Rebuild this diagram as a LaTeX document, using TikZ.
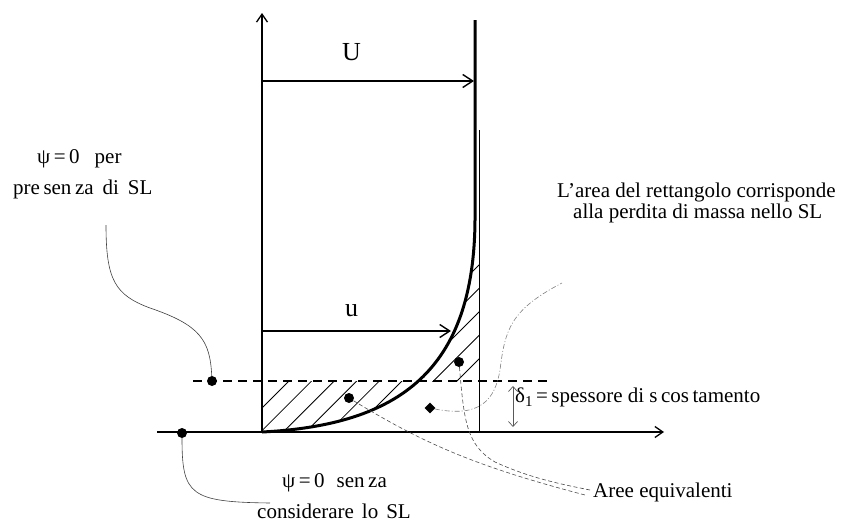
\documentclass[tikz,border=0pt]{standalone}
\usepackage{fontspec}
\setmainfont{Liberation Serif}
\usetikzlibrary{arrows.meta,shapes.geometric}
\begin{document}
\begin{tikzpicture}[x=1pt,y=-1pt,
  axis/.style={line width=1.6pt,-{Straight Barb[length=8pt,width=11pt,line width=1.3pt]}},
  vel/.style={line width=1.6pt,-{Straight Barb[length=10pt,width=13pt,line width=1.4pt]}},
  profile/.style={line width=3pt},
  rectline/.style={line width=1pt},
  hatch/.style={line width=0.8pt},
  refline/.style={line width=1.8pt,dash pattern=on 9pt off 6pt},
  dot/.style={circle,fill=black,inner sep=0pt,minimum size=10pt},
  dmd/.style={diamond,fill=black,inner sep=0pt,minimum size=11pt},
  lbl/.style={font=\fontsize{21}{21}\selectfont,inner sep=0pt,anchor=base west},
  big/.style={font=\fontsize{26}{26}\selectfont,inner sep=0pt,anchor=base west},
  lead/.style={line width=0.6pt,draw=black!75},
  leaddash/.style={line width=0.6pt,draw=black!70,dash pattern=on 4pt off 2.5pt},
  leaddd/.style={line width=0.6pt,draw=black!50,dash pattern=on 5pt off 2pt on 1pt off 2pt},
  darrow/.style={line width=0.7pt,draw=black!65,{Straight Barb[length=5pt,width=9pt]}-{Straight Barb[length=5pt,width=9pt]}},
]
\useasboundingbox (0,0) rectangle (846,522);

% hatching, lower region (between axis and profile, below dashed line)
\begin{scope}
  \clip (262,381) rectangle (480,432);
  \clip (262,432) .. controls (400,425) and (474,370) .. (475,220) -- (262,220) -- cycle;
  \foreach \c in {670,692.6,715.2,737.8,760.4,783,805.6}
    \draw[hatch] ({\c-450},450) -- ({\c-240},240);
\end{scope}
% hatching, upper region (between profile and rectangle side, above dashed line)
\begin{scope}
  \clip (262,262) rectangle (479,381);
  \clip (262,432) .. controls (400,425) and (474,370) .. (475,220) -- (479,220) -- (479,432) -- cycle;
  \foreach \c in {744,767.5,791,814.5,838,861.5}
    \draw[hatch] ({\c-450},450) -- ({\c-240},240);
\end{scope}

% axes
\coordinate (O) at (262,432);
\coordinate (ytip) at (262,13);
\coordinate (xbeg) at (157,432);
\coordinate (xtip) at (664,432);
\draw[axis] (O) -- (ytip);
\draw[axis] (xbeg) -- (xtip);

% velocity profile and rectangle side
\coordinate (Ptop) at (475,20);
\coordinate (Pbend) at (475,220);
\draw[profile] (Ptop) -- (Pbend) .. controls (474,370) and (400,425) .. (O);
\coordinate (Rtop) at (479,130);
\coordinate (Rbot) at (479,432);
\draw[rectline] (Rtop) -- (Rbot);

% velocity arrows
\coordinate (Ua) at (262,81);
\coordinate (Ub) at (474,81);
\draw[vel] (Ua) -- (Ub);
\node[big] (Ulbl) at (342,60) {U};
\coordinate (ua) at (262,331);
\coordinate (ub) at (451,331);
\draw[vel] (ua) -- (ub);
\node[big] (ulbl) at (345,316) {u};

% displacement thickness line
\coordinate (Da) at (193,381);
\coordinate (Db) at (552,381);
\draw[refline] (Da) -- (Db);

% delta arrow and label
\coordinate (da) at (513,386);
\coordinate (db) at (513,427);
\draw[darrow] (da) -- (db);
\node[lbl] (dlbl) at (515,402) {δ\raisebox{-4pt}{\fontsize{15}{15}\selectfont 1}\,=\,spessore di s\,cos\,tamento};

% markers
\node[dot] (dA) at (212,381) {};
\node[dot] (dB) at (182,433) {};
\node[dot] (dC) at (349,398) {};
\node[dot] (dD) at (459,362) {};
\node[dmd] (dE) at (430,408) {};

% texts
\node[lbl] (psiA) at (37,163) {ψ\,=\,0\hspace{15pt}per};
\node[lbl] (psiB) at (13,194) {pre\,sen\,za\hspace{9pt}di\hspace{9pt}SL};
\node[lbl] (psiC) at (282,487) {ψ\,=\,0\hspace{12pt}sen\,za};
\node[lbl] (psiD) at (257,518) {considerare\hspace{8pt}lo\hspace{8pt}SL};
\node[lbl] (area1) at (557,197) {L’area del rettangolo corrisponde};
\node[lbl] (area2) at (573,218) {alla perdita di massa nello SL};
\node[lbl] (aree) at (593,497) {Aree equivalenti};

% leaders
\coordinate (cA) at (106,225);
\draw[lead] (cA) .. controls (106,280) and (115,295) .. (150,308) .. controls (200,325) and (210,340) .. (dA);
\coordinate (cB) at (270,503);
\draw[lead] (dB) .. controls (182,495) and (190,502) .. (cB);
\coordinate (cC) at (585,495);
\draw[leaddash] (dC) .. controls (420,441) and (470,465) .. (cC);
\coordinate (cD) at (590,490);
\draw[leaddash] (dD) .. controls (464,420) and (466,445) .. (495,462) .. controls (530,478) and (560,484) .. (cD);
\coordinate (cE) at (562,283);
\draw[leaddd] (dE) .. controls (480,418) and (495,400) .. (500,370) .. controls (505,330) and (510,310) .. (cE);
\end{tikzpicture}
\end{document}
